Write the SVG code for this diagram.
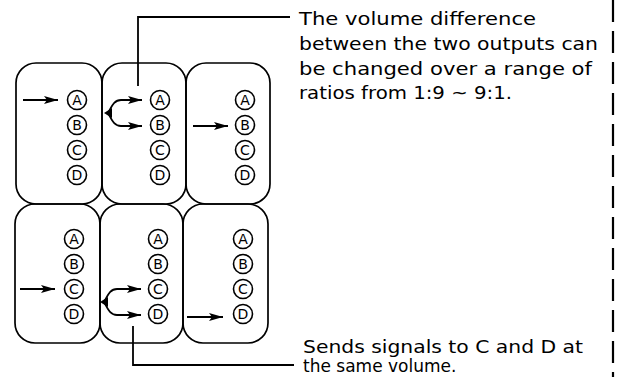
<svg xmlns="http://www.w3.org/2000/svg" width="619" height="377" viewBox="0 0 619 377">
<style>
.box{fill:none;stroke:#000;stroke-width:1.7}
.c{fill:#fff;stroke:#000;stroke-width:1.6}
.l{font-family:"DejaVu Sans","Liberation Sans",sans-serif;font-size:14px;text-anchor:middle;fill:#000}
.w{stroke:#000;stroke-width:1.8;fill:none}
.t{font-family:"DejaVu Sans","Liberation Sans",sans-serif;font-size:17px;fill:#000}
</style>
<defs>
<marker id="ah" markerWidth="14" markerHeight="10" refX="14" refY="5" orient="auto" markerUnits="userSpaceOnUse">
<path d="M0,1 L14,5 L0,9 L3,5 Z" fill="#000"/>
</marker>
<g id="abcd">
<circle class="c" cx="0" cy="0" r="9.5"/><text class="l" x="0" y="5">A</text>
<circle class="c" cx="0" cy="25" r="9.5"/><text class="l" x="0" y="30">B</text>
<circle class="c" cx="0" cy="50" r="9.5"/><text class="l" x="0" y="55">C</text>
<circle class="c" cx="0" cy="75" r="9.5"/><text class="l" x="0" y="80">D</text>
</g>
</defs>
<g id="top-left"><rect class="box" x="16" y="63" width="86" height="141" rx="20"/><use href="#abcd" x="77" y="100"/></g>
<g id="top-mid"><rect class="box" x="102" y="63" width="84" height="141" rx="20"/><use href="#abcd" x="160" y="100"/></g>
<g id="top-right"><rect class="box" x="186" y="63" width="84" height="141" rx="20"/><use href="#abcd" x="245" y="100"/></g>
<g id="bot-left"><rect class="box" x="15" y="204" width="85" height="139" rx="20"/><use href="#abcd" x="74" y="239"/></g>
<g id="bot-mid"><rect class="box" x="100" y="204" width="83" height="139" rx="20"/><use href="#abcd" x="158" y="239"/></g>
<g id="bot-right"><rect class="box" x="183" y="204" width="85" height="139" rx="20"/><use href="#abcd" x="243" y="239"/></g>
<g id="connectors">
<line class="w" x1="23" y1="100" x2="58" y2="100" marker-end="url(#ah)"/>
<path class="w" d="M108,113 C112,106 114,100 121,100 L142,100" marker-end="url(#ah)"/>
<path class="w" d="M108,113 C112,120 114,126 121,126 L142,126" marker-end="url(#ah)"/>
<path d="M104,113 L112,108 L112,118 Z" fill="#000"/>
<line class="w" x1="193" y1="126" x2="228" y2="126" marker-end="url(#ah)"/>
<line class="w" x1="20" y1="289" x2="55" y2="289" marker-end="url(#ah)"/>
<path class="w" d="M104,302 C108,295 110,289 117,289 L141,289" marker-end="url(#ah)"/>
<path class="w" d="M104,302 C108,309 110,315 117,315 L141,315" marker-end="url(#ah)"/>
<path d="M100,302 L108,297 L108,307 Z" fill="#000"/>
<line class="w" x1="187" y1="317" x2="223" y2="317" marker-end="url(#ah)"/>
<path class="w" d="M138,86 L138,17 L290,17"/>
<path class="w" d="M133,326 L133,365 L294,365"/>
</g>
<g id="note-top">
<text class="t" x="299" y="25" textLength="237" lengthAdjust="spacingAndGlyphs">The volume difference</text>
<text class="t" x="299" y="50" textLength="299" lengthAdjust="spacingAndGlyphs">between the two outputs can</text>
<text class="t" x="299" y="75" textLength="293" lengthAdjust="spacingAndGlyphs">be changed over a range of</text>
<text class="t" x="299" y="99" textLength="213" lengthAdjust="spacingAndGlyphs">ratios from 1:9 ~ 9:1.</text>
</g>
<g id="note-bottom">
<text class="t" x="303" y="353" textLength="280" lengthAdjust="spacingAndGlyphs">Sends signals to C and D at</text>
<text class="t" x="303" y="372">the same volume.</text>
</g>
<line x1="613" y1="0" x2="613" y2="377" stroke="#000" stroke-width="2.2" stroke-dasharray="22,9"/>
</svg>
